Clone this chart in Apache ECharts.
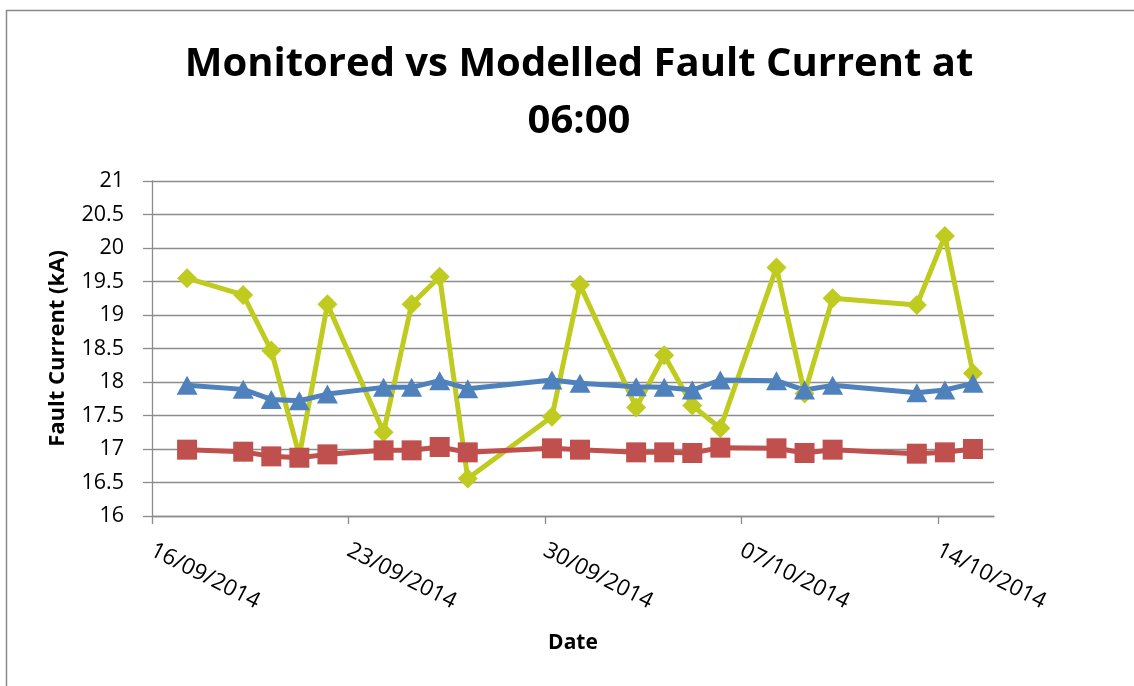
<!DOCTYPE html>
<html>
<head>
<meta charset="utf-8">
<title>Monitored vs Modelled Fault Current at 06:00</title>
<script src="https://cdn.jsdelivr.net/npm/echarts@6/dist/echarts.min.js"></script>
<style>
  html, body { margin: 0; padding: 0; background: #fff; }
  #chart { width: 1134px; height: 686px; }
</style>
</head>
<body>
<div id="chart"></div>
<script>
// readings taken at 06:00 each day
const readingHour = 6;
const axisStart = "16/09/2014";
const axisEnd = "16/10/2014";
const tickDates = ["16/09/2014", "23/09/2014", "30/09/2014", "07/10/2014", "14/10/2014"];

const dates = [
  "17/09/2014", "19/09/2014", "20/09/2014", "21/09/2014", "22/09/2014",
  "24/09/2014", "25/09/2014", "26/09/2014", "27/09/2014", "30/09/2014",
  "01/10/2014", "03/10/2014", "04/10/2014", "05/10/2014", "06/10/2014",
  "08/10/2014", "09/10/2014", "10/10/2014", "13/10/2014", "14/10/2014",
  "15/10/2014"
];

// kA
const monitored = [
  19.55, 19.30, 18.47, 16.90, 19.16, 17.25, 19.16, 19.57, 16.56, 17.48,
  19.45, 17.62, 18.40, 17.65, 17.31, 19.71, 17.83, 19.25, 19.15, 20.18,
  18.13
];
const modelledUpper = [
  17.95, 17.89, 17.74, 17.72, 17.82, 17.92, 17.92, 18.02, 17.90, 18.03,
  17.98, 17.93, 17.92, 17.88, 18.03, 18.02, 17.88, 17.95, 17.84, 17.88,
  17.98
];
const modelledLower = [
  16.99, 16.96, 16.89, 16.87, 16.92, 16.98, 16.98, 17.03, 16.95, 17.01,
  16.99, 16.95, 16.95, 16.94, 17.02, 17.01, 16.94, 16.99, 16.93, 16.95,
  17.00
];

const DAY = 86400000;

const parseDate = (s) => {
  const [d, m, y] = s.split("/").map(Number);
  return Date.UTC(y, m - 1, d);
};
const base = parseDate(axisStart);
const dayOffset = (s) => (parseDate(s) - base) / DAY;
const pad = (n) => (n < 10 ? "0" + n : "" + n);
const formatDay = (v) => {
  const dt = new Date(base + Math.round(v) * DAY);
  return pad(dt.getUTCDate()) + "/" + pad(dt.getUTCMonth() + 1) + "/" + dt.getUTCFullYear();
};

const xs = dates.map((s) => dayOffset(s) + readingHour / 24);
const pairs = (vals) => vals.map((v, i) => [xs[i], v]);
const ticks = tickDates.map(dayOffset);

const font = "'Open Sans', 'DejaVu Sans', sans-serif";
const gridGrey = "#8c8c8c";

const chart = echarts.init(document.getElementById("chart"), null, { renderer: "canvas" });

const option = {
  animation: false,
  backgroundColor: "#fff",
  title: {
    text: "Monitored vs Modelled Fault Current at\n06:00",
    left: 574,
    top: 31,
    textAlign: "center",
    textStyle: {
      fontFamily: font,
      fontWeight: "bold",
      fontSize: 40,
      lineHeight: 57,
      color: "#000",
    },
  },
  graphic: [
    {
      type: "rect",
      shape: { x: 6.5, y: 10.5, width: 1400, height: 900 },
      style: { fill: "none", stroke: "#8a8a8a", lineWidth: 1.5 },
      silent: true,
    },
  ],
  grid: {
    left: 152,
    right: 140,
    top: 181,
    bottom: 170,
    containLabel: false,
    outerBoundsMode: "none",
  },
  xAxis: {
    type: "value",
    min: 0,
    max: dayOffset(axisEnd),
    interval: 7,
    name: "Date",
    nameLocation: "middle",
    nameGap: 117,
    nameTextStyle: { fontFamily: font, fontWeight: "bold", fontSize: 21, color: "#000" },
    axisLine: { show: true, lineStyle: { color: gridGrey, width: 1.3 } },
    axisTick: { show: true, length: 8, lineStyle: { color: gridGrey, width: 1.3 }, customValues: ticks },
    axisLabel: {
      rotate: -27,
      margin: 33,
      fontFamily: font,
      fontSize: 22.5,
      color: "#000",
      customValues: ticks,
      formatter: formatDay,
    },
    splitLine: { show: false },
  },
  yAxis: {
    type: "value",
    min: 16,
    max: 21,
    interval: 0.5,
    name: "Fault Current (kA)",
    nameLocation: "middle",
    nameRotate: 90,
    nameGap: 83,
    nameTextStyle: { fontFamily: font, fontWeight: "bold", fontSize: 22, color: "#000" },
    axisLine: { show: true, lineStyle: { color: gridGrey, width: 1.3 } },
    axisTick: { show: true, length: 9, lineStyle: { color: gridGrey, width: 1.3 } },
    axisLabel: { margin: 28, fontFamily: font, fontSize: 21.5, color: "#000" },
    splitLine: { show: true, lineStyle: { color: gridGrey, width: 1.3 } },
  },
  series: [
    {
      name: "Monitored",
      type: "line",
      data: pairs(monitored),
      symbol: "diamond",
      symbolSize: 20,
      color: "#bfcb1e",
      lineStyle: { width: 5, color: "#bfcb1e" },
      itemStyle: { color: "#bfcb1e" },
    },
    {
      name: "Modelled (upper)",
      type: "line",
      data: pairs(modelledUpper),
      symbol: "triangle",
      symbolSize: [21, 19],
      color: "#4f81bd",
      lineStyle: { width: 5, color: "#4f81bd" },
      itemStyle: { color: "#4f81bd" },
    },
    {
      name: "Modelled (lower)",
      type: "line",
      data: pairs(modelledLower),
      symbol: "rect",
      symbolSize: 20,
      color: "#c0504d",
      lineStyle: { width: 5, color: "#c0504d" },
      itemStyle: { color: "#c0504d" },
    },
  ],
};

chart.setOption(option);
</script>
</body>
</html>
